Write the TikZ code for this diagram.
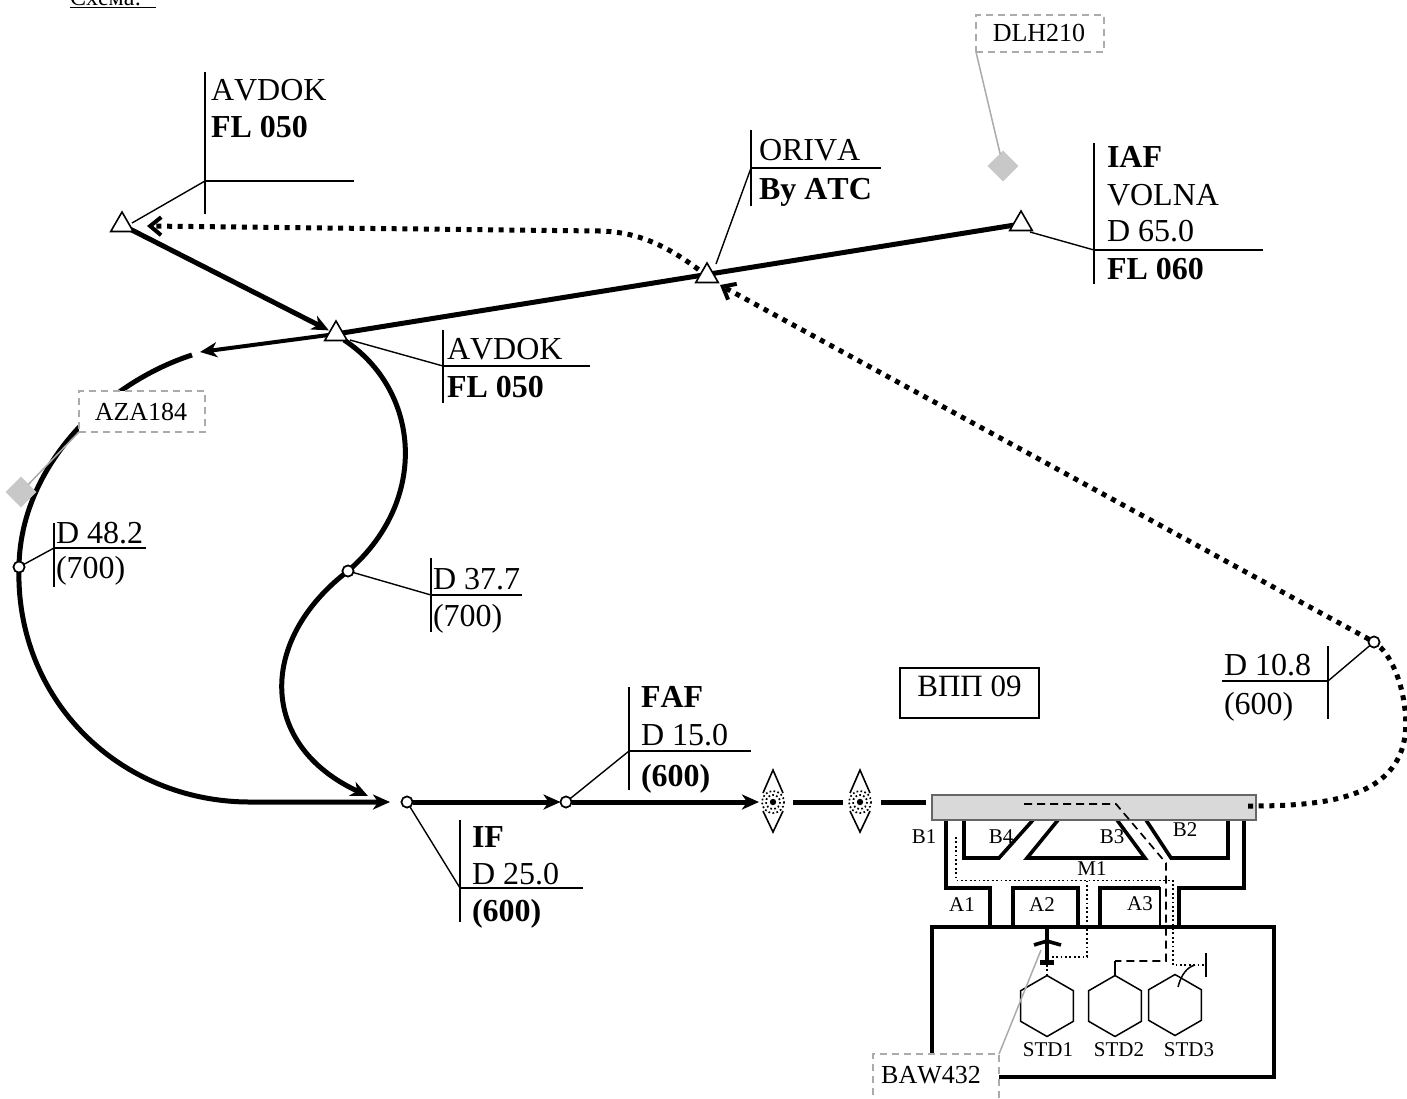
\documentclass[tikz,border=0pt]{standalone}
\usepackage{fontspec}
\setmainfont[Kerning=Off]{Liberation Serif}
\usetikzlibrary{arrows.meta,shapes.geometric}
\definecolor{greyline}{HTML}{ABABAB}
\definecolor{greyfill}{HTML}{C8C8C8}
\definecolor{runway}{HTML}{D9D9D9}
\tikzset{
  route/.style={line width=5pt},
  routearrow/.style={route,-{Stealth[length=17pt,width=15pt,inset=5pt]}},
  dotroute/.style={line width=5pt,dash pattern=on 5pt off 5.7pt},
  barbtip/.style={-{Straight Barb[length=11pt,width=18pt,line width=4pt]}},
  fixtri/.style={regular polygon,regular polygon sides=3,draw,fill=white,line width=1.6pt,minimum size=26pt,inner sep=0pt,outer sep=0pt},
  fixdot/.style={circle,draw,fill=white,line width=1.6pt,minimum size=11pt,inner sep=0pt,outer sep=0pt},
  callout/.style={line width=1.4pt},
  lab/.style={anchor=base west,inner sep=0pt,outer sep=0pt,font=\fontsize{32}{32}\selectfont},
  blab/.style={lab,font=\fontsize{32}{32}\selectfont\bfseries},
  small/.style={inner sep=0pt,outer sep=0pt,font=\fontsize{21}{21}\selectfont},
  tag/.style={draw=greyline,dashed,dash pattern=on 7pt off 5pt,line width=1.5pt,fill=white,inner sep=0pt,outer sep=0pt,font=\fontsize{26}{26}\selectfont},
  greylead/.style={draw=greyline,line width=1.5pt},
  wx/.style={diamond,fill=greyfill,draw=greyfill,minimum size=30pt,inner sep=0pt,outer sep=0pt},
  taxi/.style={line width=3.6pt,line join=miter},
  stand/.style={regular polygon,regular polygon sides=6,shape border rotate=30,draw,line width=1.5pt,minimum size=61pt,inner sep=0pt,outer sep=0pt},
  thindot/.style={line width=1.6pt,dash pattern=on 1.8pt off 2.6pt},
  thindash/.style={line width=1.7pt,dash pattern=on 8pt off 5pt},
  beaconlobe/.style={line width=1.6pt,line join=miter},
  beaconring/.style={circle,line width=1.5pt,minimum size=12pt,inner sep=0pt,outer sep=0pt},
}
\begin{document}
\begin{tikzpicture}[x=1pt,y=-1pt]
\useasboundingbox (0,0) rectangle (1407,1098);
\fill[white] (0,0) rectangle (1407,1098);

% title
\node[lab] (title) at (70,5.5) {\fontsize{24}{24}\selectfont Схема:};
\draw[line width=1.5pt] (title.base west)++(0,2) -- ++(86,0);

% fixes
\coordinate (leftend) at (192,355);
\coordinate (arrowL) at (200,352);
\coordinate (rejoin) at (250,802);
\node[fixdot] (d482) at (19,567) {};
\node[fixdot] (d377) at (348,571) {};
\node[fixdot] (ifp) at (407,802) {};
\node[fixdot] (faf) at (566,802) {};
\node[fixdot] (d108) at (1374,642) {};
\coordinate (tri1) at (122,225);
\coordinate (tri2) at (336,334);
\coordinate (tri3) at (707,276);
\coordinate (tri4) at (1021,224);

% solid routes
\draw[route,-{Stealth[length=17pt,width=15pt,inset=5pt]},shorten <=8pt,shorten >=8pt] (tri1) -- (tri2);
\draw[route] (tri4) -- (tri2);
\draw[line width=4pt,-{Stealth[length=17pt,width=15pt,inset=5pt]}] (tri2) -- (arrowL);
\coordinate (ifin) at (390,802);
\draw[routearrow] (leftend) .. controls (100,385) and (20,470) .. (d482.center) .. controls (15,700) and (120,802) .. (rejoin) -- (ifin);
\coordinate (s2) at (344,340);
\coordinate (s2end) at (368,796);
\draw[route] (s2) .. controls (420,390) and (430,500) .. (d377.center);
\draw[routearrow] (d377.center) .. controls (258,640) and (258,745) .. (s2end);
\draw[routearrow] (ifp) -- (faf);

% dotted routes
\coordinate (dotA) at (600,231);
\coordinate (dotB) at (147,226);
\coordinate (dotC) at (1248,806);
\coordinate (dotD) at (720,285);
\draw[dotroute] (tri3) .. controls (670,247) and (640,232) .. (dotA);
\draw[dotroute,barbtip] (dotA) -- (dotB);
\draw[dotroute,barbtip] (d108) -- (dotD);

% beacons
\node[beaconring] (om) at (773,802) {};
\node[beaconring] (mm) at (860,802) {};
\foreach \b in {om,mm}{
  \draw[beaconlobe] ([shift={(-10pt,-9pt)}]\b.center) -- ([yshift=-30pt]\b.center) -- ([shift={(10pt,-9pt)}]\b.center);
  \draw[beaconlobe] ([shift={(-10pt,9pt)}]\b.center) -- ([yshift=32pt]\b.center) -- ([shift={(10pt,9pt)}]\b.center);
  \fill[white] (\b.center) circle (11.5);
  \draw[line width=1.7pt,dash pattern=on 1.7pt off 2.3pt] (\b.center) circle (11);
  \draw[line width=1.7pt,dash pattern=on 1.7pt off 2.3pt] (\b.center) circle (7);
  \fill (\b.center) circle (3.2);
}
\coordinate (rwyL) at (926,802);
\coordinate (omin) at (759,802);
\draw[routearrow] (faf) -- (omin);
\coordinate (seg1a) at (793,802);
\coordinate (seg1b) at (843,802);
\coordinate (seg2a) at (881,802);
\draw[route] (seg1a) -- (seg1b);
\draw[route] (seg2a) -- (rwyL);

% taxiways
\draw[taxi] (946,820) -- (946,888) -- (990,888) -- (990,927);
\draw[taxi] (1013,927) -- (1013,888) -- (1078,888) -- (1078,927);
\draw[taxi] (1160,888) -- (1100,888) -- (1100,927);
\draw[line width=1.7pt] (1100,888) -- (1160,888) -- (1160,927);
\draw[taxi] (1179,927) -- (1179,888) -- (1244,888) -- (1244,820);
\draw[taxi] (964,820) -- (964,858) -- (999,858) -- (1033,820);
\draw[taxi] (1058,820) -- (1027,858) -- (1145,858) -- (1117,820);
\draw[taxi] (1146,820) -- (1171,858) -- (1228,858) -- (1228,820);

% runway and apron
\node[draw=black!60,line width=1.5pt,fill=runway,minimum width=324pt,minimum height=25pt,inner sep=0pt,outer sep=0pt] (rwy) at (1094,807.5) {};
\draw[dotroute] (dotC) .. controls (1325,806) and (1415,800) .. (1405,710) .. controls (1402,680) and (1390,655) .. (d108);
\node[draw,line width=3.6pt,minimum width=342pt,minimum height=150pt,inner sep=0pt,outer sep=0pt] (apron) at (1103,1002) {};
\node[stand] (std1) at (1047,1006) {};
\node[stand] (std2) at (1115,1006) {};
\node[stand] (std3) at (1175,1005) {};

% thin taxi paths
\draw[thindot] (956,837) -- (956,880.5) -- (1173,880.5) -- (1173,965) -- (1205,965);
\draw[thindot] (1087,880.5) -- (1087,957) -- (1050,957);
\draw[thindot] (1047,965) -- (std1.north);
\draw[thindash] (1024,804) -- (1116,804) -- (1166,863) -- (1166,961) -- (1115,961);
\draw[line width=1.5pt] (1115,961) -- (std2.north);
\draw[line width=1.7pt] (1206,953) -- (1206,977);
\draw[line width=1.5pt] (1178,987) .. controls (1181,975) and (1187,967) .. (1195,965);

% aircraft
\draw[line width=4pt] (1047,928) -- (1047,965);
\draw[line width=3.6pt] (1034,945) .. controls (1040,943) and (1044,942) .. (1047,941) .. controls (1050,942) and (1054,943) .. (1061,945);
\draw[line width=5pt] (1040,962) -- (1054,962);

% runway text and box
\node[draw,line width=1.3pt,minimum width=139pt,minimum height=50pt,inner sep=0pt] (vpp) at (969.5,693) {};
\node[inner sep=0pt,font=\fontsize{31}{31}\selectfont] (vppt) at (969.5,686) {ВПП 09};

% callouts
\coordinate (c1) at (205,181);
\draw[callout] (205,72) -- (205,214);
\draw[callout] (c1) -- (354,181);
\draw[callout] (c1) -- (132,223);
\node[lab] (t1a) at (211,100) {AVDOK};
\node[blab] (t1b) at (211,137) {FL 050};

\coordinate (c2) at (751,168);
\draw[callout] (751,130) -- (751,206);
\draw[callout] (c2) -- (881,168);
\draw[callout] (c2) -- (716,264);
\node[lab] (t2a) at (759,160) {ORIVA};
\node[blab] (t2b) at (759,199) {By ATC};

\coordinate (c3) at (1094,250);
\draw[callout] (1094,143) -- (1094,284);
\draw[callout] (c3) -- (1263,250);
\draw[callout] (c3) -- (1030,232);
\node[blab] (t3a) at (1107,167) {IAF};
\node[lab] (t3b) at (1107,205) {VOLNA};
\node[lab] (t3c) at (1107,241) {D 65.0};
\node[blab] (t3d) at (1107,279) {FL 060};

\coordinate (c4) at (443,366);
\draw[callout] (443,330) -- (443,403);
\draw[callout] (c4) -- (590,366);
\draw[callout] (c4) -- (350,340);
\node[lab] (t4a) at (447,359) {AVDOK};
\node[blab] (t4b) at (447,397) {FL 050};

\coordinate (c5) at (54,548);
\draw[callout] (54,523) -- (54,587);
\draw[callout] (c5) -- (146,548);
\draw[callout] (c5) -- (d482);
\node[lab] (t5a) at (56,543) {D 48.2};
\node[lab] (t5b) at (56,578) {(700)};

\coordinate (c6) at (431,595);
\draw[callout] (431,558) -- (431,632);
\draw[callout] (c6) -- (522,595);
\draw[callout] (c6) -- (d377);
\node[lab] (t6a) at (433,589) {D 37.7};
\node[lab] (t6b) at (433,626) {(700)};

\coordinate (c7) at (629,751);
\draw[callout] (629,687) -- (629,790);
\draw[callout] (c7) -- (751,751);
\draw[callout] (c7) -- (faf);
\node[blab] (t7a) at (641,707) {FAF};
\node[lab] (t7b) at (641,745) {D 15.0};
\node[blab] (t7c) at (641,786) {(600)};

\coordinate (c8) at (460,888);
\draw[callout] (460,820) -- (460,922);
\draw[callout] (c8) -- (583,888);
\draw[callout] (c8) -- (ifp);
\node[blab] (t8a) at (472,847) {IF};
\node[lab] (t8b) at (472,884) {D 25.0};
\node[blab] (t8c) at (472,921) {(600)};

\coordinate (c9) at (1328,681);
\draw[callout] (1328,646) -- (1328,719);
\draw[callout] (1222,681) -- (c9);
\draw[callout] (c9) -- (d108);
\node[lab] (t9a) at (1224,675) {D 10.8};
\node[lab] (t9b) at (1224,714) {(600)};

% fixes on top
\node[fixtri] (f1) at (tri1) {};
\node[fixtri] (f2) at (tri2) {};
\node[fixtri] (f3) at (tri3) {};
\node[fixtri] (f4) at (tri4) {};
\node[fixdot] at (d482) {};
\node[fixdot] at (d377) {};
\node[fixdot] at (ifp) {};
\node[fixdot] at (faf) {};
\node[fixdot] at (d108) {};

% small labels
\node[small] (b1) at (924,837) {B1};
\node[small] (b4) at (1001,837) {B4};
\node[small] (b3) at (1112,837) {B3};
\node[small] (b2) at (1185,830) {B2};
\node[small] (m1) at (1092,869) {M1};
\node[small] (a1) at (962,905) {A1};
\node[small] (a2) at (1042,905) {A2};
\node[small] (a3) at (1140,904) {A3};
\node[small] (l1) at (1048,1050) {STD1};
\node[small] (l2) at (1119,1050) {STD2};
\node[small] (l3) at (1189,1050) {STD3};

% traffic tags
\node[wx] (wx1) at (21,492) {};
\node[wx] (wx2) at (1003,166) {};
\node[tag,minimum width=126pt,minimum height=41pt] (aza) at (142,411.5) {};
\node[inner sep=0pt,font=\fontsize{26}{26}\selectfont] (azat) at (141,412) {AZA184};
\draw[greylead] (aza.south west) -- (wx1);
\node[tag,minimum width=128pt,minimum height=37pt] (dlh) at (1040,33.5) {};
\node[inner sep=0pt,font=\fontsize{26}{26}\selectfont] (dlht) at (1039,33) {DLH210};
\draw[greylead] (dlh.south west) -- (wx2);
\node[tag,minimum width=126pt,minimum height=50pt] (baw) at (936,1079) {};
\node[inner sep=0pt,font=\fontsize{26}{26}\selectfont] (bawt) at (931,1075) {BAW432};
\coordinate (acft) at (1041,950);
\draw[greylead] (baw.north east) -- (acft);
\end{tikzpicture}
\end{document}
